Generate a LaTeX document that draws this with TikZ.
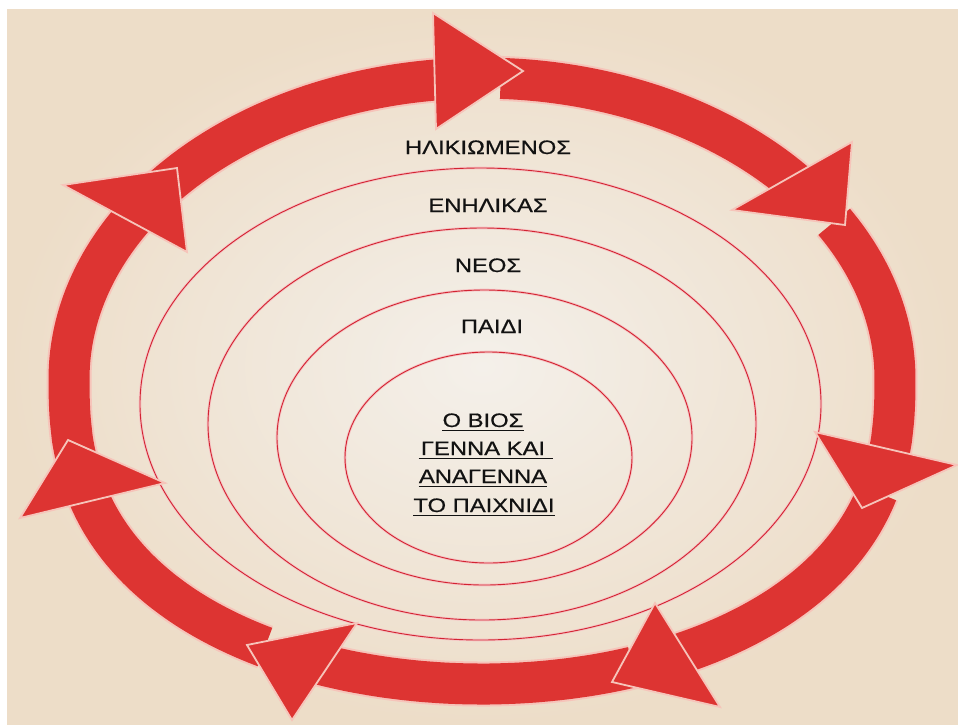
\documentclass[tikz,border=0pt]{standalone}
\usepackage{fontspec}
\setmainfont{Liberation Sans}[FakeStretch=1.22,FakeBold=0.6]
\definecolor{bandred}{RGB}{221,52,50}
\definecolor{halo}{RGB}{246,196,186}
\definecolor{thinred}{RGB}{210,36,50}
\definecolor{thinhalo}{RGB}{246,196,196}
\definecolor{bgin}{RGB}{244,240,234}
\definecolor{bgout}{RGB}{237,221,200}
\definecolor{ink}{RGB}{18,18,18}
\begin{document}
\begin{tikzpicture}[x=1pt,y=-1pt,
  declare function={ex(\t)=482+413*cos(\t);
    ey(\t)=379-301*max(sin(\t),0)+305*pow(max(-sin(\t),0.00001),0.8);},
  bandhalo/.style={draw=halo, line width=45pt},
  bandcore/.style={draw=bandred, line width=41pt},
  headstyle/.style={fill=bandred, draw=halo, line width=1.8pt, line join=miter},
  ringhalo/.style={draw=thinhalo, line width=2.6pt},
  ringline/.style={draw=thinred, line width=0.9pt},
  lbl/.style={text=ink, inner sep=0pt, anchor=base, font=\fontsize{19.5}{23}\selectfont},
  ul/.style={draw=ink, line width=1.8pt}]
\useasboundingbox (0,0) rectangle (958,724);
\fill[white] (0,0) rectangle (958,724);
\shade[inner color=bgin, outer color=bgout] (7,9) rectangle (958,724);

% thin nested ellipses
\foreach \s in {ringhalo,ringline}{
  \draw[\s] (480.5,404) ellipse [x radius=340.5, y radius=236];
  \draw[\s] (482,424) ellipse [x radius=274, y radius=196];
  \draw[\s] (484.5,437.5) ellipse [x radius=207.5, y radius=147.5];
  \draw[\s] (488.5,457.5) ellipse [x radius=143.5, y radius=105.5];
}

% bands of the ring
\foreach \s in {bandhalo,bandcore}{
  \draw[\s] plot[domain=141:93.5, samples=40, smooth] ({ex(\x)},{ey(\x)});
  \draw[\s] plot[domain=87.4:38.5, samples=40, smooth] ({ex(\x)},{ey(\x)});
  \draw[\s] plot[domain=31.5:-12, samples=40, smooth] ({ex(\x)},{ey(\x)});
  \draw[\s] plot[domain=-16.9:-63, samples=40, smooth] ({ex(\x)},{ey(\x)});
  \draw[\s] plot[domain=-68.6:-115, samples=40, smooth] ({ex(\x)},{ey(\x)});
  \draw[\s] plot[domain=-121.7:-164.5, samples=40, smooth] ({ex(\x)},{ey(\x)});
  \draw[\s] plot[domain=-169.3:-213, samples=40, smooth] ({ex(\x)},{ey(\x)});
}

% arrow heads
\filldraw[headstyle] (433,13) -- (523,71) -- (436,129) -- cycle;
\filldraw[headstyle] (852,142) -- (845,225) -- (732,210) -- cycle;
\filldraw[headstyle] (957,465) -- (862,508) -- (815,432) -- cycle;
\filldraw[headstyle] (655,603) -- (612,682) -- (720,707) -- cycle;
\filldraw[headstyle] (357,623) -- (247,645) -- (292,720) -- cycle;
\filldraw[headstyle] (165,483) -- (68,440) -- (20,518) -- cycle;
\filldraw[headstyle] (63,185) -- (177,168) -- (187,252) -- cycle;

% labels
\node[lbl] (l1) at (488,154) {ΗΛΙΚΙΩΜΕΝΟΣ};
\node[lbl] (l2) at (488,212) {ΕΝΗΛΙΚΑΣ};
\node[lbl] (l3) at (488,272) {ΝΕΟΣ};
\node[lbl] (l4) at (492,333) {ΠΑΙΔΙ};

\node[lbl] (c1) at (483,427) {Ο ΒΙΟΣ};
\node[lbl] (c2) at (483,455) {ΓΕΝΝΑ ΚΑΙ};
\node[lbl] (c3) at (483,483) {ΑΝΑΓΕΝΝΑ};
\node[lbl] (c4) at (484,512) {ΤΟ ΠΑΙΧΝΙΔΙ};
\draw[ul] ([yshift=-3.5pt]c1.base west) -- ([yshift=-3.5pt]c1.base east);
\draw[ul] ([xshift=-2pt,yshift=-3.5pt]c2.base west) -- ([xshift=8pt,yshift=-3.5pt]c2.base east);
\draw[ul] ([yshift=-3.5pt]c3.base west) -- ([yshift=-3.5pt]c3.base east);
\draw[ul] ([yshift=-3.5pt]c4.base west) -- ([yshift=-3.5pt]c4.base east);
\end{tikzpicture}
\end{document}
